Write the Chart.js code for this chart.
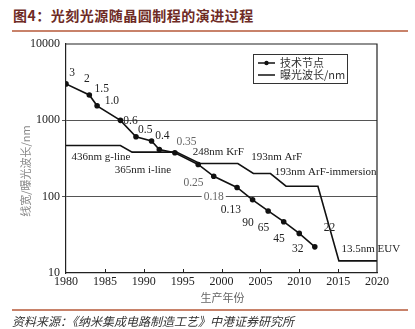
<!DOCTYPE html>
<html>
<head>
<meta charset="utf-8">
<script src="https://cdn.jsdelivr.net/npm/chart.js@4"></script>
<style>
  html, body { margin: 0; padding: 0; background: #fff; }
  body { width: 415px; height: 329px; position: relative; overflow: hidden; }
  #title {
    position: absolute; left: 13px; top: 5px;
    font: bold 14px "Noto Sans CJK SC", sans-serif; letter-spacing: 0.5px;
    color: #6e2b25; white-space: nowrap;
  }
  .rule { position: absolute; left: 12px; width: 396px; height: 1.5px; background: #c8826a; }
  #source {
    position: absolute; left: 12px; top: 312px;
    font: italic 12px "Noto Sans CJK SC", sans-serif; color: #333; white-space: nowrap;
  }
  #chart { position: absolute; left: 0; top: 0; }
</style>
</head>
<body>
<div id="title">图4：光刻光源随晶圆制程的演进过程</div>
<div class="rule" style="top:30px"></div>
<canvas id="chart" width="415" height="329"></canvas>
<div class="rule" style="top:309px"></div>
<div id="source">资料来源：《纳米集成电路制造工艺》中港证券研究所</div>

<script>
// Technology nodes (year, feature size in nm)
const nodeYears  = [1980, 1983, 1984, 1987, 1989, 1991, 1992, 1994, 1997, 1999, 2002, 2004, 2006, 2008, 2010, 2012];
const nodeValues = [3000, 2150, 1550, 1000, 610, 535, 415, 376, 264, 185, 132, 91, 65, 47, 33, 22];

// Exposure wavelength steps (year, nm)
const waveYears  = [1980, 1987, 1988.5, 1994.2, 1997.2, 2002.1, 2004.1, 2006.3, 2008.3, 2012.4, 2015.1, 2020];
const waveValues = [469, 469, 383, 383, 272, 272, 201, 201, 137, 137, 14.4, 14.4];

// Axis ticks
const xTicks = [1980, 1985, 1990, 1995, 2000, 2005, 2010, 2015, 2020];
const yTicks = [10, 100, 1000, 10000];

// Node labels: text, anchor year, anchor value, gray?
const nodeLabels = [
    ['3', 1980.8, 4150, false],
    ['2', 1982.7, 3460, false],
    ['1.5', 1984.6, 2560, false],
    ['1.0', 1985.9, 1780, false],
    ['0.6', 1988.3, 970, false],
    ['0.5', 1990.2, 740, false],
    ['0.4', 1992.4, 616, false],
    ['0.35', 1995.5, 514, true],
    ['0.25', 1996.4, 153, true],
    ['0.18', 1999.0, 100, true],
    ['0.13', 2001.2, 67, false],
    ['90', 2003.4, 45.5, false],
    ['65', 2005.4, 39, false],
    ['45', 2007.4, 28, false],
    ['32', 2009.8, 20.7, false],
    ['22', 2013.9, 39, false]
];

// Wavelength labels: text, center year, center value
const waveLabels = [
    ['436nm g-line', 1984.5, 326],
    ['365nm i-line', 1989.9, 220],
    ['248nm KrF', 1999.6, 379],
    ['193nm ArF', 2007.1, 326],
    ['193nm ArF-immersion', 2013.4, 207],
    ['13.5nm EUV', 2019.2, 20.7]
];

const legendLabels = ['技术节点', '曝光波长/nm'];
const xTitle = '生产年份';
const yTitle = '线宽/曝光波长/nm';

const serif = '"Liberation Serif", "DejaVu Serif", serif';
const cjk = '"Noto Sans CJK SC", sans-serif';

// Extra drawing: frame, inward ticks, labels, legend, axis titles
const annotations = {
    id: 'annotations',
    afterDraw(chart) {
        const ctx = chart.ctx;
        const area = chart.chartArea;
        const xs = chart.scales.x;
        const ys = chart.scales.y;
        ctx.save();

        // top and right frame
        ctx.strokeStyle = '#222';
        ctx.lineWidth = 1.2;
        ctx.beginPath();
        ctx.moveTo(area.left, area.top);
        ctx.lineTo(area.right, area.top);
        ctx.lineTo(area.right, area.bottom);
        ctx.stroke();

        // inward x tick marks
        ctx.lineWidth = 1;
        xTicks.slice(1, -1).forEach(v => {
            const px = Math.round(xs.getPixelForValue(v)) + 0.5;
            ctx.beginPath();
            ctx.moveTo(px, area.bottom);
            ctx.lineTo(px, area.bottom - 4);
            ctx.stroke();
        });

        // node labels
        ctx.font = '11.5px ' + serif;
        ctx.textAlign = 'center';
        ctx.textBaseline = 'middle';
        nodeLabels.forEach(([t, yr, v, gray]) => {
            const px = xs.getPixelForValue(yr);
            const py = ys.getPixelForValue(v);
            if (t === '0.18') {
                const w = ctx.measureText(t).width;
                ctx.fillStyle = '#fff';
                ctx.fillRect(px - w / 2 - 2, py - 5, w + 4, 10);
            }
            ctx.fillStyle = gray ? '#666' : '#222';
            ctx.fillText(t, px, py);
        });

        // wavelength labels
        ctx.fillStyle = '#222';
        ctx.font = '11px ' + serif;
        waveLabels.forEach(([t, yr, v]) => {
            ctx.fillText(t, xs.getPixelForValue(yr), ys.getPixelForValue(v));
        });

        // legend
        const lx = 253, ly = 54, lw = 94, lh = 29;
        ctx.strokeStyle = '#333';
        ctx.lineWidth = 1;
        ctx.strokeRect(lx + 0.5, ly + 0.5, lw, lh);
        ctx.lineWidth = 1.5;
        ctx.strokeStyle = '#111';
        [ly + 9, ly + 21].forEach((yy, i) => {
            ctx.beginPath();
            ctx.moveTo(lx + 5, yy);
            ctx.lineTo(lx + 22, yy);
            ctx.stroke();
            if (i === 0) {
                ctx.fillStyle = '#111';
                ctx.beginPath();
                ctx.arc(lx + 13.5, yy, 2.2, 0, Math.PI * 2);
                ctx.fill();
            }
            ctx.fillStyle = '#333';
            ctx.font = '11px ' + cjk;
            ctx.textAlign = 'left';
            ctx.fillText(legendLabels[i], lx + 27, yy);
        });

        // axis titles
        ctx.fillStyle = '#666';
        ctx.font = '11px ' + cjk;
        ctx.textAlign = 'center';
        ctx.fillText(xTitle, (area.left + area.right) / 2 + 1, 298);
        ctx.translate(26, 171);
        ctx.rotate(-Math.PI / 2);
        ctx.fillStyle = '#888';
        ctx.fillText(yTitle, 0, 0);
        ctx.restore();
    }
};

new Chart(document.getElementById('chart').getContext('2d'), {
    type: 'line',
    data: {
        datasets: [
            {
                label: legendLabels[0],
                data: nodeYears.map((yr, i) => ({ x: yr, y: nodeValues[i] })),
                borderColor: '#111',
                backgroundColor: '#111',
                borderWidth: 1.6,
                pointRadius: 2,
                pointHoverRadius: 2,
                tension: 0
            },
            {
                label: legendLabels[1],
                data: waveYears.map((yr, i) => ({ x: yr, y: waveValues[i] })),
                borderColor: '#111',
                borderWidth: 1.6,
                pointRadius: 0,
                tension: 0
            }
        ]
    },
    options: {
        responsive: false,
        animation: false,
        events: [],
        layout: { padding: { left: 0, right: 38, top: 44, bottom: 26 } },
        plugins: {
            legend: { display: false },
            title: { display: false },
            tooltip: { enabled: false }
        },
        scales: {
            x: {
                type: 'linear',
                min: 1980,
                max: 2020,
                afterBuildTicks: scale => { scale.ticks = xTicks.map(v => ({ value: v })); },
                afterFit: scale => { scale.height = 30; },
                ticks: {
                    color: '#222',
                    font: { family: serif, size: 12 },
                    padding: 2,
                    maxRotation: 0,
                    callback: v => String(v)
                },
                grid: { drawOnChartArea: false, drawTicks: false },
                border: { display: true, color: '#222', width: 1.2 }
            },
            y: {
                type: 'logarithmic',
                min: 10,
                max: 10000,
                afterBuildTicks: scale => { scale.ticks = yTicks.map(v => ({ value: v })); },
                afterFit: scale => { scale.width = 66; },
                ticks: {
                    color: '#222',
                    font: { family: serif, size: 12 },
                    padding: 2,
                    callback: v => String(v)
                },
                grid: {
                    color: c => (c.tick && (c.tick.value === 100 || c.tick.value === 1000)) ? '#555' : 'rgba(0,0,0,0)',
                    tickColor: c => (c.tick && (c.tick.value === 100 || c.tick.value === 1000)) ? '#555' : 'rgba(0,0,0,0)',
                    tickLength: 4,
                    lineWidth: 1
                },
                border: { display: true, color: '#222', width: 1.2 }
            }
        }
    },
    plugins: [annotations]
});
</script>
</body>
</html>
